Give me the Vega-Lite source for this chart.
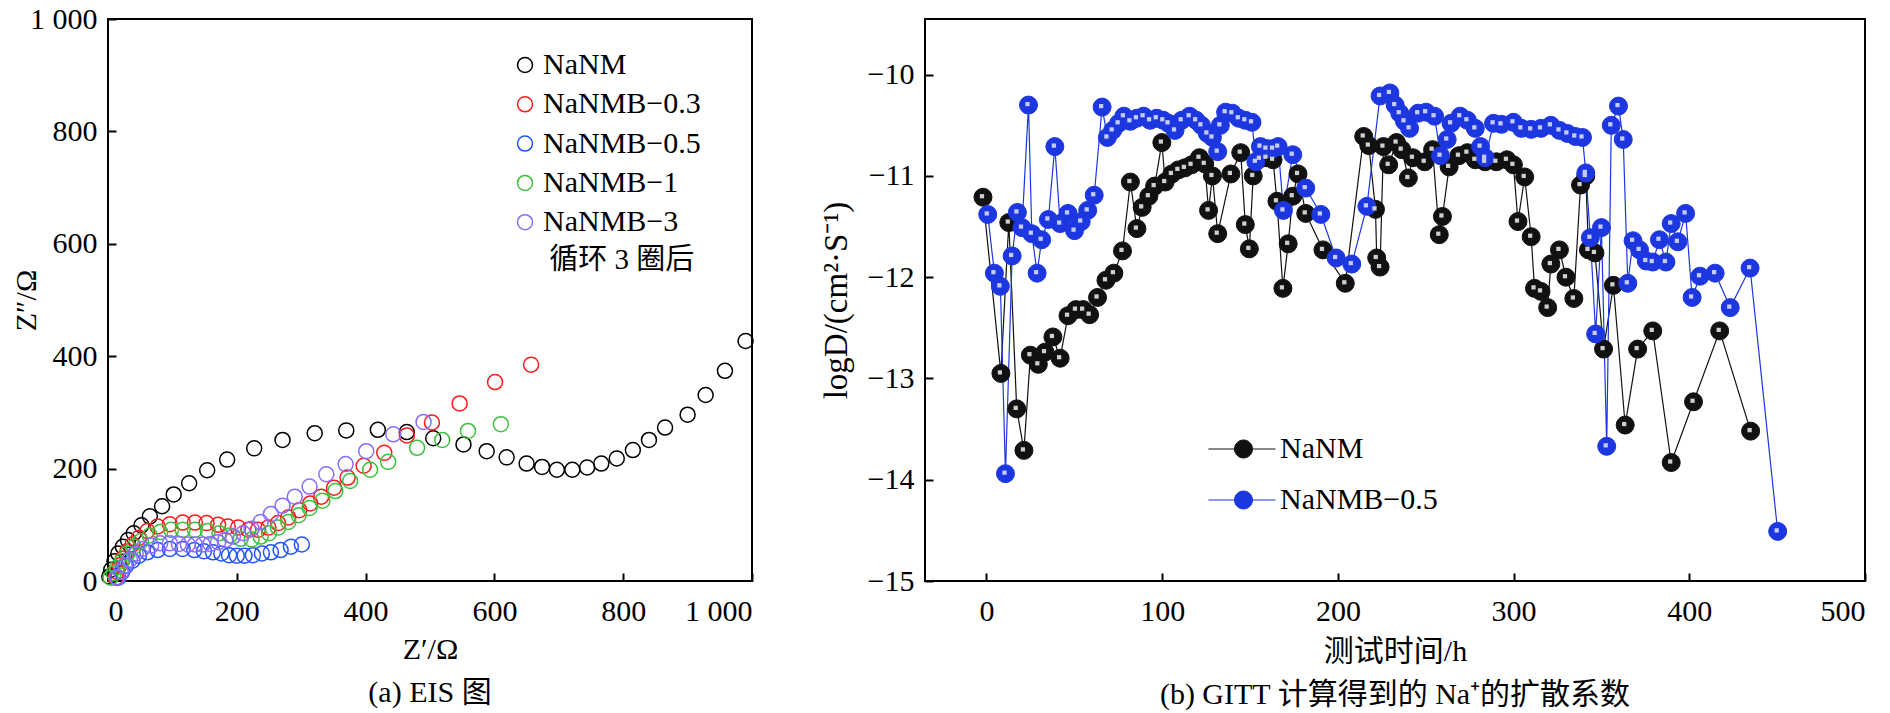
{
  "$schema": "https://vega.github.io/schema/vega-lite/v6.json",
  "background": "white",
  "padding": {"left": 10, "top": 3, "right": 5, "bottom": 5},
  "bounds": "flush",
  "spacing": 173,
  "config": {
    "font": "Liberation Serif, Noto Sans CJK SC",
    "view": {"stroke": "black", "strokeWidth": 2},
    "axis": {
      "grid": false,
      "domain": false,
      "tickColor": "black",
      "tickWidth": 2,
      "tickSize": -8,
      "labelFont": "Liberation Serif",
      "labelFontSize": 30,
      "labelColor": "black",
      "titleFont": "Liberation Serif, Noto Sans CJK SC",
      "titleFontSize": 30,
      "titleFontWeight": "normal",
      "titleColor": "black"
    },
    "axisX": {"labelPadding": 23},
    "axisY": {"labelPadding": 19},
    "legend": {
      "orient": "none",
      "padding": 0,
      "labelFont": "Liberation Serif",
      "labelFontSize": 30,
      "labelColor": "black",
      "labelLimit": 0
    },
    "title": {"font": "Liberation Serif, Noto Sans CJK SC", "fontSize": 30, "fontWeight": "normal", "color": "black"}
  },
  "datasets": {
    "eis": [
      {"series": "NaNM", "zre": 2, "zim": 8},
      {"series": "NaNM", "zre": 5, "zim": 20},
      {"series": "NaNM", "zre": 10, "zim": 35},
      {"series": "NaNM", "zre": 16, "zim": 49},
      {"series": "NaNM", "zre": 23, "zim": 61},
      {"series": "NaNM", "zre": 31, "zim": 73},
      {"series": "NaNM", "zre": 40, "zim": 85},
      {"series": "NaNM", "zre": 52, "zim": 99},
      {"series": "NaNM", "zre": 65, "zim": 115},
      {"series": "NaNM", "zre": 84, "zim": 133},
      {"series": "NaNM", "zre": 102, "zim": 154},
      {"series": "NaNM", "zre": 126, "zim": 174},
      {"series": "NaNM", "zre": 154, "zim": 197},
      {"series": "NaNM", "zre": 185, "zim": 216},
      {"series": "NaNM", "zre": 227, "zim": 236},
      {"series": "NaNM", "zre": 271, "zim": 251},
      {"series": "NaNM", "zre": 321, "zim": 263},
      {"series": "NaNM", "zre": 370, "zim": 268},
      {"series": "NaNM", "zre": 419, "zim": 269},
      {"series": "NaNM", "zre": 464, "zim": 265},
      {"series": "NaNM", "zre": 505, "zim": 254},
      {"series": "NaNM", "zre": 552, "zim": 243},
      {"series": "NaNM", "zre": 588, "zim": 231},
      {"series": "NaNM", "zre": 619, "zim": 220},
      {"series": "NaNM", "zre": 650, "zim": 209},
      {"series": "NaNM", "zre": 674, "zim": 203},
      {"series": "NaNM", "zre": 697, "zim": 198},
      {"series": "NaNM", "zre": 721, "zim": 198},
      {"series": "NaNM", "zre": 744, "zim": 202},
      {"series": "NaNM", "zre": 766, "zim": 209},
      {"series": "NaNM", "zre": 790, "zim": 218},
      {"series": "NaNM", "zre": 815, "zim": 233},
      {"series": "NaNM", "zre": 840, "zim": 251},
      {"series": "NaNM", "zre": 865, "zim": 273},
      {"series": "NaNM", "zre": 900, "zim": 296},
      {"series": "NaNM", "zre": 928, "zim": 331},
      {"series": "NaNM", "zre": 958, "zim": 374},
      {"series": "NaNM", "zre": 990, "zim": 427},
      {"series": "NaNMB−0.3", "zre": 12, "zim": 6},
      {"series": "NaNMB−0.3", "zre": 14, "zim": 16},
      {"series": "NaNMB−0.3", "zre": 18, "zim": 28},
      {"series": "NaNMB−0.3", "zre": 23, "zim": 40},
      {"series": "NaNMB−0.3", "zre": 30, "zim": 53},
      {"series": "NaNMB−0.3", "zre": 38, "zim": 65},
      {"series": "NaNMB−0.3", "zre": 48, "zim": 77},
      {"series": "NaNMB−0.3", "zre": 61, "zim": 89},
      {"series": "NaNMB−0.3", "zre": 77, "zim": 97},
      {"series": "NaNMB−0.3", "zre": 96, "zim": 101},
      {"series": "NaNMB−0.3", "zre": 116, "zim": 104},
      {"series": "NaNMB−0.3", "zre": 135, "zim": 104},
      {"series": "NaNMB−0.3", "zre": 153, "zim": 103},
      {"series": "NaNMB−0.3", "zre": 171, "zim": 100},
      {"series": "NaNMB−0.3", "zre": 186, "zim": 97},
      {"series": "NaNMB−0.3", "zre": 202, "zim": 95},
      {"series": "NaNMB−0.3", "zre": 218, "zim": 91},
      {"series": "NaNMB−0.3", "zre": 233, "zim": 91},
      {"series": "NaNMB−0.3", "zre": 249, "zim": 95},
      {"series": "NaNMB−0.3", "zre": 264, "zim": 103},
      {"series": "NaNMB−0.3", "zre": 280, "zim": 113},
      {"series": "NaNMB−0.3", "zre": 297, "zim": 126},
      {"series": "NaNMB−0.3", "zre": 314, "zim": 138},
      {"series": "NaNMB−0.3", "zre": 331, "zim": 150},
      {"series": "NaNMB−0.3", "zre": 351, "zim": 166},
      {"series": "NaNMB−0.3", "zre": 372, "zim": 184},
      {"series": "NaNMB−0.3", "zre": 397, "zim": 205},
      {"series": "NaNMB−0.3", "zre": 429, "zim": 228},
      {"series": "NaNMB−0.3", "zre": 464, "zim": 259},
      {"series": "NaNMB−0.3", "zre": 503, "zim": 282},
      {"series": "NaNMB−0.3", "zre": 546, "zim": 316},
      {"series": "NaNMB−0.3", "zre": 601, "zim": 354},
      {"series": "NaNMB−0.3", "zre": 657, "zim": 385},
      {"series": "NaNMB−0.5", "zre": 16, "zim": 6},
      {"series": "NaNMB−0.5", "zre": 22, "zim": 16},
      {"series": "NaNMB−0.5", "zre": 28, "zim": 27},
      {"series": "NaNMB−0.5", "zre": 38, "zim": 36},
      {"series": "NaNMB−0.5", "zre": 48, "zim": 45},
      {"series": "NaNMB−0.5", "zre": 61, "zim": 51},
      {"series": "NaNMB−0.5", "zre": 77, "zim": 55},
      {"series": "NaNMB−0.5", "zre": 96, "zim": 57},
      {"series": "NaNMB−0.5", "zre": 116, "zim": 57},
      {"series": "NaNMB−0.5", "zre": 134, "zim": 55},
      {"series": "NaNMB−0.5", "zre": 149, "zim": 53},
      {"series": "NaNMB−0.5", "zre": 163, "zim": 51},
      {"series": "NaNMB−0.5", "zre": 176, "zim": 49},
      {"series": "NaNMB−0.5", "zre": 188, "zim": 46},
      {"series": "NaNMB−0.5", "zre": 200, "zim": 45},
      {"series": "NaNMB−0.5", "zre": 212, "zim": 45},
      {"series": "NaNMB−0.5", "zre": 225, "zim": 46},
      {"series": "NaNMB−0.5", "zre": 239, "zim": 49},
      {"series": "NaNMB−0.5", "zre": 253, "zim": 51},
      {"series": "NaNMB−0.5", "zre": 268, "zim": 55},
      {"series": "NaNMB−0.5", "zre": 284, "zim": 61},
      {"series": "NaNMB−0.5", "zre": 301, "zim": 65},
      {"series": "NaNMB−1", "zre": 4, "zim": 6},
      {"series": "NaNMB−1", "zre": 9, "zim": 14},
      {"series": "NaNMB−1", "zre": 14, "zim": 24},
      {"series": "NaNMB−1", "zre": 22, "zim": 36},
      {"series": "NaNMB−1", "zre": 30, "zim": 49},
      {"series": "NaNMB−1", "zre": 40, "zim": 61},
      {"series": "NaNMB−1", "zre": 51, "zim": 71},
      {"series": "NaNMB−1", "zre": 65, "zim": 81},
      {"series": "NaNMB−1", "zre": 81, "zim": 87},
      {"series": "NaNMB−1", "zre": 98, "zim": 91},
      {"series": "NaNMB−1", "zre": 116, "zim": 91},
      {"series": "NaNMB−1", "zre": 135, "zim": 91},
      {"series": "NaNMB−1", "zre": 155, "zim": 89},
      {"series": "NaNMB−1", "zre": 173, "zim": 85},
      {"series": "NaNMB−1", "zre": 189, "zim": 81},
      {"series": "NaNMB−1", "zre": 206, "zim": 75},
      {"series": "NaNMB−1", "zre": 223, "zim": 74},
      {"series": "NaNMB−1", "zre": 237, "zim": 79},
      {"series": "NaNMB−1", "zre": 250, "zim": 85},
      {"series": "NaNMB−1", "zre": 264, "zim": 95},
      {"series": "NaNMB−1", "zre": 280, "zim": 105},
      {"series": "NaNMB−1", "zre": 296, "zim": 117},
      {"series": "NaNMB−1", "zre": 313, "zim": 130},
      {"series": "NaNMB−1", "zre": 333, "zim": 143},
      {"series": "NaNMB−1", "zre": 353, "zim": 160},
      {"series": "NaNMB−1", "zre": 376, "zim": 178},
      {"series": "NaNMB−1", "zre": 407, "zim": 198},
      {"series": "NaNMB−1", "zre": 435, "zim": 212},
      {"series": "NaNMB−1", "zre": 480, "zim": 237},
      {"series": "NaNMB−1", "zre": 519, "zim": 251},
      {"series": "NaNMB−1", "zre": 559, "zim": 267},
      {"series": "NaNMB−1", "zre": 610, "zim": 279},
      {"series": "NaNMB−3", "zre": 14, "zim": 6},
      {"series": "NaNMB−3", "zre": 20, "zim": 16},
      {"series": "NaNMB−3", "zre": 26, "zim": 27},
      {"series": "NaNMB−3", "zre": 34, "zim": 38},
      {"series": "NaNMB−3", "zre": 43, "zim": 49},
      {"series": "NaNMB−3", "zre": 53, "zim": 57},
      {"series": "NaNMB−3", "zre": 67, "zim": 63},
      {"series": "NaNMB−3", "zre": 81, "zim": 67},
      {"series": "NaNMB−3", "zre": 96, "zim": 67},
      {"series": "NaNMB−3", "zre": 110, "zim": 66},
      {"series": "NaNMB−3", "zre": 124, "zim": 65},
      {"series": "NaNMB−3", "zre": 135, "zim": 65},
      {"series": "NaNMB−3", "zre": 147, "zim": 65},
      {"series": "NaNMB−3", "zre": 159, "zim": 66},
      {"series": "NaNMB−3", "zre": 171, "zim": 69},
      {"series": "NaNMB−3", "zre": 182, "zim": 73},
      {"series": "NaNMB−3", "zre": 194, "zim": 79},
      {"series": "NaNMB−3", "zre": 210, "zim": 85},
      {"series": "NaNMB−3", "zre": 223, "zim": 93},
      {"series": "NaNMB−3", "zre": 237, "zim": 105},
      {"series": "NaNMB−3", "zre": 253, "zim": 119},
      {"series": "NaNMB−3", "zre": 271, "zim": 134},
      {"series": "NaNMB−3", "zre": 290, "zim": 150},
      {"series": "NaNMB−3", "zre": 313, "zim": 168},
      {"series": "NaNMB−3", "zre": 339, "zim": 190},
      {"series": "NaNMB−3", "zre": 369, "zim": 208},
      {"series": "NaNMB−3", "zre": 401, "zim": 231},
      {"series": "NaNMB−3", "zre": 443, "zim": 261},
      {"series": "NaNMB−3", "zre": 490, "zim": 283}
    ],
    "gitt": [
      {"series": "NaNM", "t": -2, "logD": -11.21},
      {"series": "NaNM", "t": 8.2, "logD": -12.95},
      {"series": "NaNM", "t": 12.7, "logD": -11.46},
      {"series": "NaNM", "t": 17.2, "logD": -13.3},
      {"series": "NaNM", "t": 21.3, "logD": -13.71},
      {"series": "NaNM", "t": 25, "logD": -12.77},
      {"series": "NaNM", "t": 29.5, "logD": -12.86},
      {"series": "NaNM", "t": 33.3, "logD": -12.74},
      {"series": "NaNM", "t": 37.8, "logD": -12.59},
      {"series": "NaNM", "t": 41.9, "logD": -12.8},
      {"series": "NaNM", "t": 46.4, "logD": -12.38},
      {"series": "NaNM", "t": 50.9, "logD": -12.32},
      {"series": "NaNM", "t": 55, "logD": -12.32},
      {"series": "NaNM", "t": 58.7, "logD": -12.37},
      {"series": "NaNM", "t": 63.2, "logD": -12.2},
      {"series": "NaNM", "t": 68, "logD": -12.03},
      {"series": "NaNM", "t": 72.5, "logD": -11.96},
      {"series": "NaNM", "t": 77.4, "logD": -11.74},
      {"series": "NaNM", "t": 81.9, "logD": -11.06},
      {"series": "NaNM", "t": 85.6, "logD": -11.52},
      {"series": "NaNM", "t": 88.6, "logD": -11.31},
      {"series": "NaNM", "t": 92.4, "logD": -11.2},
      {"series": "NaNM", "t": 95.7, "logD": -11.1},
      {"series": "NaNM", "t": 99.8, "logD": -10.67},
      {"series": "NaNM", "t": 101.7, "logD": -11.06},
      {"series": "NaNM", "t": 105.5, "logD": -10.98},
      {"series": "NaNM", "t": 109.2, "logD": -10.94},
      {"series": "NaNM", "t": 112.9, "logD": -10.92},
      {"series": "NaNM", "t": 116.7, "logD": -10.89},
      {"series": "NaNM", "t": 121.2, "logD": -10.82},
      {"series": "NaNM", "t": 124.2, "logD": -10.88},
      {"series": "NaNM", "t": 126.4, "logD": -11.34},
      {"series": "NaNM", "t": 128.6, "logD": -11},
      {"series": "NaNM", "t": 131.6, "logD": -11.57},
      {"series": "NaNM", "t": 139.1, "logD": -10.98},
      {"series": "NaNM", "t": 144.7, "logD": -10.77},
      {"series": "NaNM", "t": 147.3, "logD": -11.48},
      {"series": "NaNM", "t": 149.6, "logD": -11.72},
      {"series": "NaNM", "t": 151.8, "logD": -11},
      {"series": "NaNM", "t": 155.6, "logD": -10.83},
      {"series": "NaNM", "t": 159.3, "logD": -10.82},
      {"series": "NaNM", "t": 163.1, "logD": -10.84},
      {"series": "NaNM", "t": 165.3, "logD": -11.25},
      {"series": "NaNM", "t": 168.7, "logD": -12.11},
      {"series": "NaNM", "t": 171.7, "logD": -11.67},
      {"series": "NaNM", "t": 174.3, "logD": -11.2},
      {"series": "NaNM", "t": 177.3, "logD": -10.98},
      {"series": "NaNM", "t": 181.7, "logD": -11.37},
      {"series": "NaNM", "t": 191.5, "logD": -11.73},
      {"series": "NaNM", "t": 204.2, "logD": -12.06},
      {"series": "NaNM", "t": 214.7, "logD": -10.61},
      {"series": "NaNM", "t": 217.6, "logD": -10.7},
      {"series": "NaNM", "t": 221.4, "logD": -11.33},
      {"series": "NaNM", "t": 222.1, "logD": -11.81},
      {"series": "NaNM", "t": 224, "logD": -11.9},
      {"series": "NaNM", "t": 225.9, "logD": -10.71},
      {"series": "NaNM", "t": 228.9, "logD": -10.89},
      {"series": "NaNM", "t": 233.4, "logD": -10.67},
      {"series": "NaNM", "t": 236.3, "logD": -10.74},
      {"series": "NaNM", "t": 240.1, "logD": -11.02},
      {"series": "NaNM", "t": 242.7, "logD": -10.82},
      {"series": "NaNM", "t": 249.4, "logD": -10.86},
      {"series": "NaNM", "t": 253.9, "logD": -10.74},
      {"series": "NaNM", "t": 257.7, "logD": -11.58},
      {"series": "NaNM", "t": 259.5, "logD": -11.4},
      {"series": "NaNM", "t": 263.3, "logD": -10.91},
      {"series": "NaNM", "t": 268.9, "logD": -10.8},
      {"series": "NaNM", "t": 273.7, "logD": -10.77},
      {"series": "NaNM", "t": 278.2, "logD": -10.84},
      {"series": "NaNM", "t": 283.8, "logD": -10.86},
      {"series": "NaNM", "t": 290.2, "logD": -10.86},
      {"series": "NaNM", "t": 296.2, "logD": -10.84},
      {"series": "NaNM", "t": 299.9, "logD": -10.89},
      {"series": "NaNM", "t": 302.5, "logD": -11.45},
      {"series": "NaNM", "t": 306.3, "logD": -11.01},
      {"series": "NaNM", "t": 310, "logD": -11.6},
      {"series": "NaNM", "t": 311.9, "logD": -12.11},
      {"series": "NaNM", "t": 315.6, "logD": -12.14},
      {"series": "NaNM", "t": 319.4, "logD": -12.3},
      {"series": "NaNM", "t": 321.2, "logD": -11.87},
      {"series": "NaNM", "t": 326.1, "logD": -11.73},
      {"series": "NaNM", "t": 329.8, "logD": -12},
      {"series": "NaNM", "t": 334.3, "logD": -12.21},
      {"series": "NaNM", "t": 338.1, "logD": -11.09},
      {"series": "NaNM", "t": 341.1, "logD": -11},
      {"series": "NaNM", "t": 342.6, "logD": -11.73},
      {"series": "NaNM", "t": 346.3, "logD": -11.76},
      {"series": "NaNM", "t": 351.2, "logD": -12.71},
      {"series": "NaNM", "t": 356.8, "logD": -12.08},
      {"series": "NaNM", "t": 363.5, "logD": -13.46},
      {"series": "NaNM", "t": 370.6, "logD": -12.71},
      {"series": "NaNM", "t": 379.2, "logD": -12.53},
      {"series": "NaNM", "t": 389.7, "logD": -13.83},
      {"series": "NaNM", "t": 402.4, "logD": -13.23},
      {"series": "NaNM", "t": 417.3, "logD": -12.53},
      {"series": "NaNM", "t": 434.9, "logD": -13.52},
      {"series": "NaNMB−0.5", "t": 0.7, "logD": -11.38},
      {"series": "NaNMB−0.5", "t": 4.5, "logD": -11.96},
      {"series": "NaNMB−0.5", "t": 7.9, "logD": -12.09},
      {"series": "NaNMB−0.5", "t": 10.8, "logD": -13.94},
      {"series": "NaNMB−0.5", "t": 14.6, "logD": -11.79},
      {"series": "NaNMB−0.5", "t": 17.6, "logD": -11.36},
      {"series": "NaNMB−0.5", "t": 20.2, "logD": -11.51},
      {"series": "NaNMB−0.5", "t": 23.9, "logD": -10.3},
      {"series": "NaNMB−0.5", "t": 25.8, "logD": -11.57},
      {"series": "NaNMB−0.5", "t": 28.8, "logD": -11.96},
      {"series": "NaNMB−0.5", "t": 31.4, "logD": -11.63},
      {"series": "NaNMB−0.5", "t": 35.2, "logD": -11.43},
      {"series": "NaNMB−0.5", "t": 38.9, "logD": -10.71},
      {"series": "NaNMB−0.5", "t": 41.9, "logD": -11.47},
      {"series": "NaNMB−0.5", "t": 46.4, "logD": -11.37},
      {"series": "NaNMB−0.5", "t": 50.1, "logD": -11.54},
      {"series": "NaNMB−0.5", "t": 53.9, "logD": -11.45},
      {"series": "NaNMB−0.5", "t": 57.6, "logD": -11.34},
      {"series": "NaNMB−0.5", "t": 61.3, "logD": -11.19},
      {"series": "NaNMB−0.5", "t": 65.8, "logD": -10.32},
      {"series": "NaNMB−0.5", "t": 68.8, "logD": -10.62},
      {"series": "NaNMB−0.5", "t": 71.8, "logD": -10.55},
      {"series": "NaNMB−0.5", "t": 75.2, "logD": -10.48},
      {"series": "NaNMB−0.5", "t": 78.2, "logD": -10.41},
      {"series": "NaNMB−0.5", "t": 81.9, "logD": -10.46},
      {"series": "NaNMB−0.5", "t": 85.6, "logD": -10.43},
      {"series": "NaNMB−0.5", "t": 89.4, "logD": -10.41},
      {"series": "NaNMB−0.5", "t": 93.1, "logD": -10.45},
      {"series": "NaNMB−0.5", "t": 96.9, "logD": -10.43},
      {"series": "NaNMB−0.5", "t": 100.6, "logD": -10.45},
      {"series": "NaNMB−0.5", "t": 103.6, "logD": -10.48},
      {"series": "NaNMB−0.5", "t": 107.3, "logD": -10.55},
      {"series": "NaNMB−0.5", "t": 111.1, "logD": -10.45},
      {"series": "NaNMB−0.5", "t": 115.6, "logD": -10.41},
      {"series": "NaNMB−0.5", "t": 119.3, "logD": -10.45},
      {"series": "NaNMB−0.5", "t": 122.3, "logD": -10.5},
      {"series": "NaNMB−0.5", "t": 125.7, "logD": -10.58},
      {"series": "NaNMB−0.5", "t": 128.6, "logD": -10.62},
      {"series": "NaNMB−0.5", "t": 131.6, "logD": -10.76},
      {"series": "NaNMB−0.5", "t": 133.1, "logD": -10.5},
      {"series": "NaNMB−0.5", "t": 136.1, "logD": -10.37},
      {"series": "NaNMB−0.5", "t": 139.9, "logD": -10.38},
      {"series": "NaNMB−0.5", "t": 143.6, "logD": -10.43},
      {"series": "NaNMB−0.5", "t": 147.3, "logD": -10.45},
      {"series": "NaNMB−0.5", "t": 151.1, "logD": -10.47},
      {"series": "NaNMB−0.5", "t": 153.3, "logD": -10.86},
      {"series": "NaNMB−0.5", "t": 155.9, "logD": -10.71},
      {"series": "NaNMB−0.5", "t": 159.3, "logD": -10.73},
      {"series": "NaNMB−0.5", "t": 163.1, "logD": -10.73},
      {"series": "NaNMB−0.5", "t": 166, "logD": -10.71},
      {"series": "NaNMB−0.5", "t": 169, "logD": -11.34},
      {"series": "NaNMB−0.5", "t": 174.3, "logD": -10.79},
      {"series": "NaNMB−0.5", "t": 181.7, "logD": -11.12},
      {"series": "NaNMB−0.5", "t": 190.3, "logD": -11.38},
      {"series": "NaNMB−0.5", "t": 199, "logD": -11.81},
      {"series": "NaNMB−0.5", "t": 207.9, "logD": -11.87},
      {"series": "NaNMB−0.5", "t": 216.5, "logD": -11.3},
      {"series": "NaNMB−0.5", "t": 224, "logD": -10.21},
      {"series": "NaNMB−0.5", "t": 229.6, "logD": -10.18},
      {"series": "NaNMB−0.5", "t": 232.6, "logD": -10.3},
      {"series": "NaNMB−0.5", "t": 235.2, "logD": -10.38},
      {"series": "NaNMB−0.5", "t": 237.9, "logD": -10.46},
      {"series": "NaNMB−0.5", "t": 240.8, "logD": -10.53},
      {"series": "NaNMB−0.5", "t": 245.7, "logD": -10.38},
      {"series": "NaNMB−0.5", "t": 250.2, "logD": -10.37},
      {"series": "NaNMB−0.5", "t": 255, "logD": -10.41},
      {"series": "NaNMB−0.5", "t": 258.4, "logD": -10.8},
      {"series": "NaNMB−0.5", "t": 262.2, "logD": -10.64},
      {"series": "NaNMB−0.5", "t": 264.4, "logD": -10.48},
      {"series": "NaNMB−0.5", "t": 269.6, "logD": -10.41},
      {"series": "NaNMB−0.5", "t": 273.7, "logD": -10.45},
      {"series": "NaNMB−0.5", "t": 278.2, "logD": -10.53},
      {"series": "NaNMB−0.5", "t": 281.2, "logD": -10.71},
      {"series": "NaNMB−0.5", "t": 283.8, "logD": -10.82},
      {"series": "NaNMB−0.5", "t": 288.6, "logD": -10.48},
      {"series": "NaNMB−0.5", "t": 293.1, "logD": -10.49},
      {"series": "NaNMB−0.5", "t": 299.9, "logD": -10.47},
      {"series": "NaNMB−0.5", "t": 304.4, "logD": -10.53},
      {"series": "NaNMB−0.5", "t": 310, "logD": -10.54},
      {"series": "NaNMB−0.5", "t": 315.6, "logD": -10.53},
      {"series": "NaNMB−0.5", "t": 321.2, "logD": -10.5},
      {"series": "NaNMB−0.5", "t": 326.1, "logD": -10.55},
      {"series": "NaNMB−0.5", "t": 330.6, "logD": -10.58},
      {"series": "NaNMB−0.5", "t": 335.1, "logD": -10.61},
      {"series": "NaNMB−0.5", "t": 339.2, "logD": -10.62},
      {"series": "NaNMB−0.5", "t": 341.1, "logD": -10.97},
      {"series": "NaNMB−0.5", "t": 343.7, "logD": -11.61},
      {"series": "NaNMB−0.5", "t": 346.7, "logD": -12.56},
      {"series": "NaNMB−0.5", "t": 350, "logD": -11.51},
      {"series": "NaNMB−0.5", "t": 353, "logD": -13.67},
      {"series": "NaNMB−0.5", "t": 355.6, "logD": -10.5},
      {"series": "NaNMB−0.5", "t": 359.7, "logD": -10.31},
      {"series": "NaNMB−0.5", "t": 362.4, "logD": -10.64},
      {"series": "NaNMB−0.5", "t": 365, "logD": -12.06},
      {"series": "NaNMB−0.5", "t": 368, "logD": -11.64},
      {"series": "NaNMB−0.5", "t": 371.7, "logD": -11.73},
      {"series": "NaNMB−0.5", "t": 375.5, "logD": -11.84},
      {"series": "NaNMB−0.5", "t": 379.2, "logD": -11.85},
      {"series": "NaNMB−0.5", "t": 383, "logD": -11.63},
      {"series": "NaNMB−0.5", "t": 386.7, "logD": -11.85},
      {"series": "NaNMB−0.5", "t": 389.7, "logD": -11.47},
      {"series": "NaNMB−0.5", "t": 393.5, "logD": -11.65},
      {"series": "NaNMB−0.5", "t": 397.9, "logD": -11.37},
      {"series": "NaNMB−0.5", "t": 401.6, "logD": -12.2},
      {"series": "NaNMB−0.5", "t": 406.1, "logD": -11.99},
      {"series": "NaNMB−0.5", "t": 414.7, "logD": -11.96},
      {"series": "NaNMB−0.5", "t": 423.3, "logD": -12.3},
      {"series": "NaNMB−0.5", "t": 434.6, "logD": -11.91},
      {"series": "NaNMB−0.5", "t": 450.3, "logD": -14.51}
    ]
  },
  "resolve": {"scale": {"x": "independent", "y": "independent", "color": "independent", "fill": "independent", "stroke": "independent"}},
  "hconcat": [
    {
      "width": 644,
      "height": 562,
      "title": {"text": "(a) EIS 图", "orient": "bottom", "offset": 14},
      "layer": [
        {
          "data": {"name": "eis"},
          "mark": {"type": "point", "shape": "circle", "filled": false, "size": 225, "strokeWidth": 1.5, "opacity": 1},
          "encoding": {
            "x": {
              "field": "zre", "type": "quantitative",
              "scale": {"domain": [0, 1000], "nice": false},
              "axis": {"title": "Z′/Ω", "values": [0, 200, 400, 600, 800, 1000], "labelExpr": "datum.value == 1000 ? '1 000' : datum.label", "titleY": 68, "titleBaseline": "middle"}
            },
            "y": {
              "field": "zim", "type": "quantitative",
              "scale": {"domain": [0, 1000], "nice": false},
              "axis": {"title": "Z″/Ω", "values": [0, 200, 400, 600, 800, 1000], "labelExpr": "datum.value == 1000 ? '1 000' : datum.label", "titleX": -82, "titleY": 281, "titleBaseline": "middle", "titleAngle": -90}
            },
            "color": {
              "field": "series", "type": "nominal",
              "scale": {
                "domain": ["NaNM", "NaNMB−0.3", "NaNMB−0.5", "NaNMB−1", "NaNMB−3"],
                "range": ["#000000", "#ff1a1a", "#2255ff", "#3cc23c", "#8a6cff"]
              },
              "legend": {"title": null, "legendX": 402, "legendY": 31, "symbolSize": 225, "symbolStrokeWidth": 1.5, "labelOffset": 3, "rowPadding": 9.3}
            }
          }
        },
        {
          "data": {"values": [{"zre": 685, "zim": 571, "note": "循环 3 圈后"}]},
          "mark": {"type": "text", "align": "left", "baseline": "middle", "fontSize": 29, "font": "Liberation Serif, Noto Sans CJK SC", "color": "black"},
          "encoding": {
            "x": {"field": "zre", "type": "quantitative"},
            "y": {"field": "zim", "type": "quantitative"},
            "text": {"field": "note"}
          }
        }
      ]
    },
    {
      "width": 940,
      "height": 562,
      "title": {"text": "(b) GITT 计算得到的 Na⁺的扩散系数", "orient": "bottom", "offset": 14},
      "data": {"name": "gitt"},
      "encoding": {
        "x": {
          "field": "t", "type": "quantitative",
          "scale": {"domain": [-35, 500], "nice": false, "zero": false},
          "axis": {"title": "测试时间/h", "values": [0, 100, 200, 300, 400, 500], "titleY": 70, "titleBaseline": "middle"}
        },
        "y": {
          "field": "logD", "type": "quantitative",
          "scale": {"domain": [-15, -9.45], "nice": false, "zero": false},
          "axis": {"title": "logD/(cm²·S⁻¹)", "titleFontSize": 33, "values": [-15, -14, -13, -12, -11, -10], "titleX": -89, "titleY": 281, "titleBaseline": "middle", "titleAngle": -90}
        }
      },
      "layer": [
        {
          "mark": {"type": "line", "strokeWidth": 1.2},
          "encoding": {
            "stroke": {
              "field": "series", "type": "nominal",
              "scale": {"domain": ["NaNM", "NaNMB−0.5"], "range": ["#111111", "#1d37e0"]},
              "legend": {"title": null, "legendX": 303.5, "legendY": 415, "symbolSize": 324, "symbolStrokeWidth": 1, "symbolType": "M-3.9,0L-1,0M1,0L3.55,0M1,0A1,1,0,1,1,-1,0A1,1,0,1,1,1,0Z", "labelOffset": 21.5, "rowPadding": 21}
            }
          }
        },
        {
          "mark": {"type": "point", "shape": "circle", "filled": true, "size": 324, "strokeWidth": 1, "opacity": 1},
          "encoding": {
            "fill": {
              "field": "series", "type": "nominal",
              "scale": {"domain": ["NaNM", "NaNMB−0.5"], "range": ["#111111", "#1d37e0"]},
              "legend": {"title": null, "legendX": 303.5, "legendY": 415, "symbolSize": 324, "symbolStrokeWidth": 1, "symbolType": "M-3.9,0L-1,0M1,0L3.55,0M1,0A1,1,0,1,1,-1,0A1,1,0,1,1,1,0Z", "labelOffset": 21.5, "rowPadding": 21}
            },
            "stroke": {
              "field": "series", "type": "nominal",
              "legend": {"title": null, "legendX": 303.5, "legendY": 415, "symbolSize": 324, "symbolStrokeWidth": 1, "symbolType": "M-3.9,0L-1,0M1,0L3.55,0M1,0A1,1,0,1,1,-1,0A1,1,0,1,1,1,0Z", "labelOffset": 21.5, "rowPadding": 21}
            }
          }
        },
        {
          "mark": {"type": "point", "shape": "square", "filled": true, "size": 18, "opacity": 1, "xOffset": -1, "yOffset": -1},
          "encoding": {
            "color": {
              "field": "series", "type": "nominal",
              "scale": {"domain": ["NaNM", "NaNMB−0.5"], "range": ["#cfcfcf", "#c4ccff"]},
              "legend": null
            }
          }
        }
      ]
    }
  ]
}
